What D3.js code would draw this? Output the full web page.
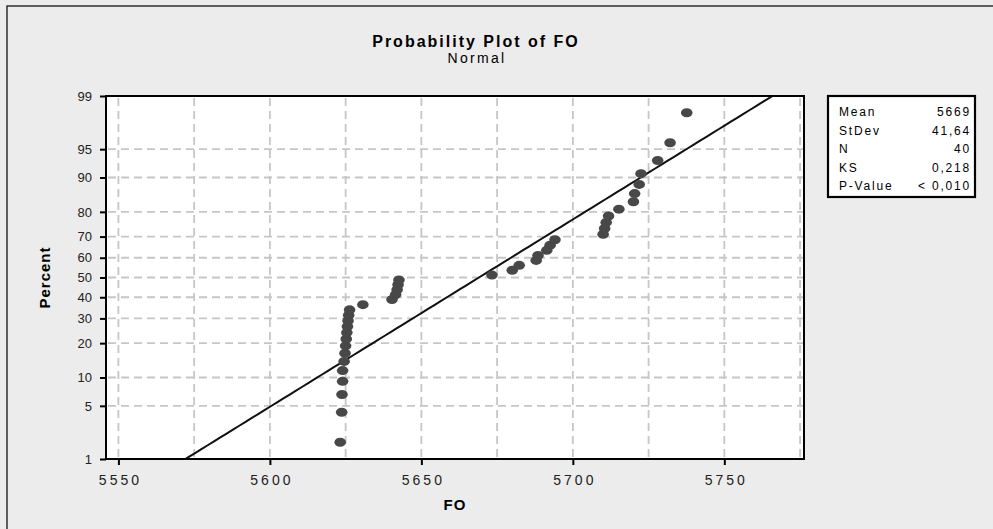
<!DOCTYPE html>
<html>
<head>
<meta charset="utf-8">
<script src="https://cdn.jsdelivr.net/npm/d3@7"></script>
<style>
  body { margin: 0; background: #ececec; }
  svg { display: block; font-family: "Liberation Sans", Arial, sans-serif; }
</style>
</head>
<body>
<div id="chart"></div>
<script>
const foValues = [
  5623.2, 5623.7, 5623.8, 5624.0, 5624.0, 5624.5, 5624.8, 5625.0, 5625.2, 5625.4,
  5625.6, 5625.8, 5626.0, 5626.3, 5630.7, 5640.3, 5641.5, 5642.0, 5642.3, 5642.6,
  5673.3, 5680.0, 5682.3, 5687.9, 5688.5, 5691.4, 5692.5, 5694.1, 5710.0, 5710.5,
  5711.0, 5711.8, 5715.2, 5720.0, 5720.4, 5721.9, 5722.5, 5728.0, 5732.1, 5737.6
];
const percentTicks = [1, 5, 10, 20, 30, 40, 50, 60, 70, 80, 90, 95, 99];
const xLabelTicks = [5550, 5600, 5650, 5700, 5750];
const xGridTicks = [5550, 5575, 5600, 5625, 5650, 5675, 5700, 5725, 5750, 5775];
const statLabels = ['Mean', 'StDev', 'N', 'KS', 'P-Value'];
const statValues = ['5669', '41,64', '40', '0,218', '< 0,010'];
const fitMean = 5669;
const fitSd = 41.64;

// inverse normal cdf (Acklam approximation)
function probit(p) {
  const a = [-39.6968302866538, 220.946098424521, -275.928510446969, 138.357751867269, -30.6647980661472, 2.50662827745924];
  const b = [-54.4760987982241, 161.585836858041, -155.698979859887, 66.8013118877197, -13.2806815528857];
  const c = [-0.00778489400243029, -0.322396458041136, -2.40075827716184, -2.54973253934373, 4.37466414146497, 2.93816398269878];
  const d = [0.00778469570904146, 0.32246712907004, 2.445134137143, 3.75440866190742];
  const pl = 0.02425;
  let q, r;
  if (p < pl) {
    q = Math.sqrt(-2 * Math.log(p));
    return (((((c[0] * q + c[1]) * q + c[2]) * q + c[3]) * q + c[4]) * q + c[5]) / ((((d[0] * q + d[1]) * q + d[2]) * q + d[3]) * q + 1);
  }
  if (p > 1 - pl) {
    q = Math.sqrt(-2 * Math.log(1 - p));
    return -(((((c[0] * q + c[1]) * q + c[2]) * q + c[3]) * q + c[4]) * q + c[5]) / ((((d[0] * q + d[1]) * q + d[2]) * q + d[3]) * q + 1);
  }
  q = p - 0.5;
  r = q * q;
  return (((((a[0] * r + a[1]) * r + a[2]) * r + a[3]) * r + a[4]) * r + a[5]) * q / (((((b[0] * r + b[1]) * r + b[2]) * r + b[3]) * r + b[4]) * r + 1);
}

class ProbabilityPlot {

  constructor(_config, _data) {
    this.config = {
      parentElement: _config.parentElement,
      containerWidth: 993,
      containerHeight: 529,
      margin: { top: 96, right: 189, bottom: 70, left: 106 }
    }
    this.data = _data;
    this.initVis();
  }

  initVis() {
    let vis = this;
    const m = vis.config.margin;
    vis.width = vis.config.containerWidth - m.left - m.right;
    vis.height = vis.config.containerHeight - m.top - m.bottom;

    vis.xScale = d3.scaleLinear()
      .domain([5545.9, 5776.3])
      .range([0, vis.width]);

    // normal probability scale: percent -> z -> pixels
    vis.zMax = -probit(0.01);
    vis.zScale = d3.scaleLinear()
      .domain([-vis.zMax, vis.zMax])
      .range([vis.height, 0]);
    vis.yScale = p => vis.zScale(probit(p / 100));

    vis.svg = d3.select(vis.config.parentElement).append('svg')
      .attr('width', vis.config.containerWidth)
      .attr('height', vis.config.containerHeight);

    vis.svg.append('rect')
      .attr('x', 7).attr('y', 6)
      .attr('width', 1000).attr('height', 530)
      .attr('fill', '#ececec')
      .attr('stroke', '#000').attr('stroke-width', 1.2);

    // titles
    vis.svg.append('text')
      .attr('x', 476).attr('y', 47)
      .attr('text-anchor', 'middle')
      .attr('font-size', 16).attr('font-weight', 'bold')
      .attr('letter-spacing', 2)
      .text('Probability Plot of FO');
    vis.svg.append('text')
      .attr('x', 477).attr('y', 63)
      .attr('text-anchor', 'middle')
      .attr('font-size', 14)
      .attr('letter-spacing', 2.3)
      .text('Normal');

    vis.chartArea = vis.svg.append('g')
      .attr('transform', `translate(${m.left},${m.top})`);

    vis.chartArea.append('rect')
      .attr('width', vis.width).attr('height', vis.height)
      .attr('fill', '#fff');

    vis.chartArea.append('defs').append('clipPath')
      .attr('id', 'plot-clip')
      .append('rect')
      .attr('width', vis.width).attr('height', vis.height);

    vis.renderVis();
  }

  renderVis() {
    let vis = this;

    // grid
    const grid = vis.chartArea.append('g')
      .attr('stroke', '#c6c6c6')
      .attr('stroke-width', 1.8)
      .attr('stroke-dasharray', '8,5');
    grid.selectAll('.vgrid')
      .data(xGridTicks)
      .join('line')
      .attr('class', 'vgrid')
      .attr('x1', d => vis.xScale(d)).attr('x2', d => vis.xScale(d))
      .attr('y1', 2).attr('y2', vis.height);
    grid.selectAll('.hgrid')
      .data(percentTicks.slice(1, -1))
      .join('line')
      .attr('class', 'hgrid')
      .attr('x1', 2).attr('x2', vis.width)
      .attr('y1', d => vis.yScale(d)).attr('y2', d => vis.yScale(d));

    // fitted normal line
    const zs = d3.range(-2.6, 2.61, 0.05);
    const line = d3.line()
      .x(z => vis.xScale(fitMean + fitSd * z))
      .y(z => vis.zScale(z));
    vis.chartArea.append('path')
      .datum(zs)
      .attr('clip-path', 'url(#plot-clip)')
      .attr('d', line)
      .attr('fill', 'none')
      .attr('stroke', '#111')
      .attr('stroke-width', 2);

    // points at median-rank plotting positions
    const n = vis.data.length;
    vis.chartArea.append('g')
      .selectAll('.pt')
      .data(vis.data)
      .join('ellipse')
      .attr('class', 'pt')
      .attr('cx', d => vis.xScale(d))
      .attr('cy', (d, i) => vis.yScale(100 * (i + 1 - 0.3) / (n + 0.4)))
      .attr('rx', 5.8).attr('ry', 4.5)
      .attr('fill', '#484848');

    // frame
    vis.chartArea.append('rect')
      .attr('width', vis.width).attr('height', vis.height)
      .attr('fill', 'none')
      .attr('stroke', '#000').attr('stroke-width', 2);

    // axes
    vis.xAxis = d3.axisBottom(vis.xScale)
      .tickValues(xLabelTicks)
      .tickFormat(d3.format('d'))
      .tickSize(6)
      .tickSizeOuter(0)
      .tickPadding(10);
    vis.xAxisG = vis.chartArea.append('g')
      .attr('transform', `translate(0,${vis.height})`)
      .call(vis.xAxis);
    vis.xAxisG.select('.domain').remove();
    vis.xAxisG.selectAll('line').attr('stroke', '#000').attr('stroke-width', 2);
    vis.xAxisG.selectAll('text')
      .attr('font-size', 14).attr('letter-spacing', 3)
      .attr('dx', 1.5)
      .attr('fill', '#222')
      .attr('font-family', '"Liberation Sans", Arial, sans-serif');

    vis.yAxis = d3.axisLeft(vis.zScale)
      .tickValues(percentTicks.map(p => probit(p / 100)))
      .tickFormat((d, i) => percentTicks[i])
      .tickSize(6)
      .tickSizeOuter(0)
      .tickPadding(8);
    vis.yAxisG = vis.chartArea.append('g').call(vis.yAxis);
    vis.yAxisG.select('.domain').remove();
    vis.yAxisG.selectAll('line').attr('stroke', '#000').attr('stroke-width', 2);
    vis.yAxisG.selectAll('text')
      .attr('font-size', 13)
      .attr('fill', '#222')
      .attr('font-family', '"Liberation Sans", Arial, sans-serif');

    // axis titles
    vis.chartArea.append('text')
      .attr('x', vis.width / 2).attr('y', vis.height + 51)
      .attr('text-anchor', 'middle')
      .attr('font-size', 15).attr('font-weight', 'bold')
      .attr('letter-spacing', 1)
      .text('FO');
    vis.chartArea.append('text')
      .attr('transform', `translate(-56,${vis.height / 2}) rotate(-90)`)
      .attr('text-anchor', 'middle')
      .attr('font-size', 15).attr('font-weight', 'bold')
      .attr('letter-spacing', 1)
      .text('Percent');

    // stats box
    const box = vis.svg.append('g').attr('transform', 'translate(828,96)');
    box.append('rect')
      .attr('width', 147).attr('height', 101)
      .attr('fill', '#fff')
      .attr('stroke', '#000').attr('stroke-width', 2.2);
    box.selectAll('.slabel')
      .data(statLabels)
      .join('text')
      .attr('class', 'slabel')
      .attr('x', 11)
      .attr('y', (d, i) => 20 + i * 18.5)
      .attr('font-size', 12).attr('letter-spacing', 1.8)
      .text(d => d);
    box.selectAll('.svalue')
      .data(statValues)
      .join('text')
      .attr('class', 'svalue')
      .attr('x', 143)
      .attr('y', (d, i) => 20 + i * 18.5)
      .attr('text-anchor', 'end')
      .attr('font-size', 12).attr('letter-spacing', 1.8)
      .text(d => d);
  }
}

new ProbabilityPlot({ parentElement: '#chart' }, foValues);
</script>
</body>
</html>
